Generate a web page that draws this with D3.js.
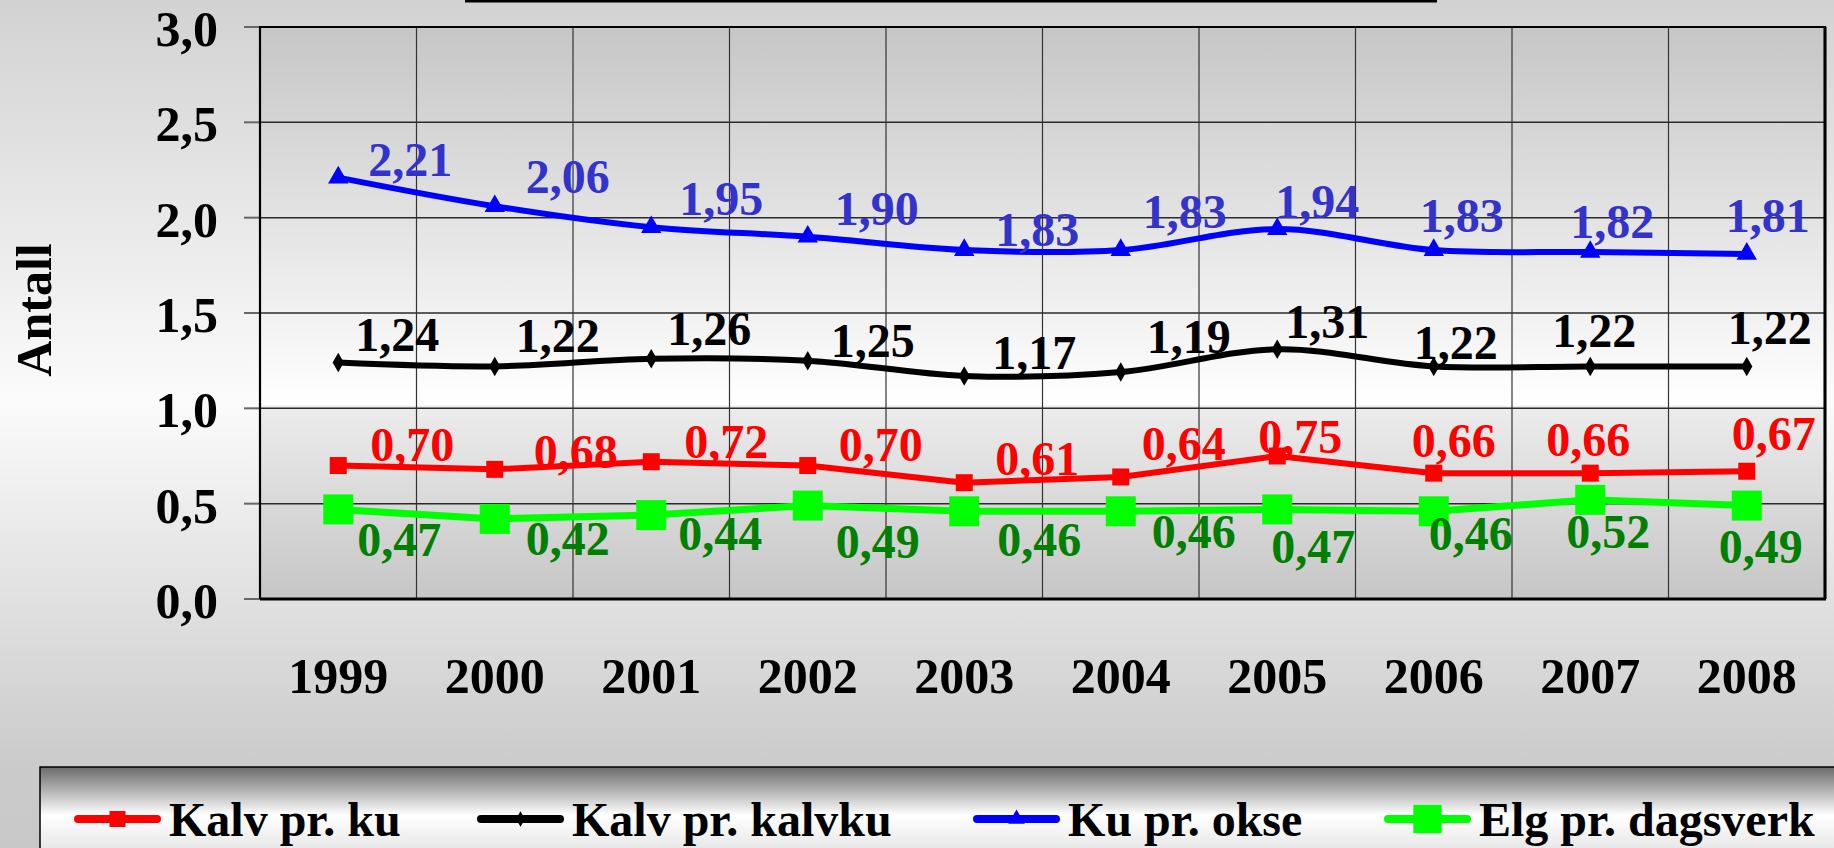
<html>
<head>
  <script src="https://d3js.org/d3.v7.min.js"></script>
  <style type="text/css">
    body { margin: 0; overflow: hidden; background: #d0d0d0; }
    text { font-family: "Liberation Serif", "Times New Roman", serif; font-weight: bold; }
  </style>
</head>
<body>
<svg id="chart" width="1834" height="848"></svg>

<script>
var years = ["1999", "2000", "2001", "2002", "2003", "2004", "2005", "2006", "2007", "2008"];
var kalvPrKu      = [0.70, 0.68, 0.72, 0.70, 0.61, 0.64, 0.75, 0.66, 0.66, 0.67];
var kalvPrKalvku  = [1.24, 1.22, 1.26, 1.25, 1.17, 1.19, 1.31, 1.22, 1.22, 1.22];
var kuPrOkse      = [2.21, 2.06, 1.95, 1.90, 1.83, 1.83, 1.94, 1.83, 1.82, 1.81];
var elgPrDagsverk = [0.47, 0.42, 0.44, 0.49, 0.46, 0.46, 0.47, 0.46, 0.52, 0.49];
var seriesNames = ["Kalv pr. ku", "Kalv pr. kalvku", "Ku pr. okse", "Elg pr. dagsverk"];
var yTicks = [0, 0.5, 1.0, 1.5, 2.0, 2.5, 3.0];
var yTitle = "Antall";

// hand placed data labels in the original, nudges in px from the point
var redDx   = [32, 39, 33, 31, 31, 21, -19, -22, -44, -15];
var redDy   = [-5, -1, -4, -5, -8, -17, -3, -16, -17, -21];
var blackDx = [17, 21, 16, 23, 28, 26, 8, -20, -38, -19];
var blackDy = [-12, -14, -14, -4, -7, -19, -11, -7, -19, -22];
var blueDx  = [30, 31, 28, 27, 31, 22, -2, -14, -20, -21];
var blueDy  = [-2, -13, -12, -12, -4, -22, -11, -18, -14, -22];
var greenDx = [19, 31, 27, 28, 33, 31, -6, -5, -24, -28];
var greenDy = [47, 36, 35, 52, 45, 37, 54, 39, 48, 57];

var series = [
  {name: seriesNames[1], values: kalvPrKalvku, line: "#000000", label: "#000000", curve: d3.curveCatmullRom.alpha(0), width: 6,
   symbol: d3.symbolDiamond, size: 110, legSize: 70, dx: blackDx, dy: blackDy},
  {name: seriesNames[2], values: kuPrOkse, line: "#0000ff", label: "#3333cc", curve: d3.curveCatmullRom.alpha(0), width: 6,
   symbol: d3.symbolTriangle, size: 180, legSize: 120, dx: blueDx, dy: blueDy},
  {name: seriesNames[3], values: elgPrDagsverk, line: "#00ff00", label: "#008000", curve: d3.curveLinear, width: 7,
   symbol: d3.symbolSquare, size: 900, legSize: 800, dx: greenDx, dy: greenDy},
  {name: seriesNames[0], values: kalvPrKu, line: "#ff0000", label: "#ff0000", curve: d3.curveLinear, width: 6,
   symbol: d3.symbolSquare, size: 289, legSize: 256, dx: redDx, dy: redDy}
];

var comma = function(f) { return function(v) { return d3.format(f)(v).replace(".", ","); }; };

var svg = d3.select("#chart");
var defs = svg.append("defs");

function vGradient(id, stops) {
  var g = defs.append("linearGradient").attr("id", id)
    .attr("x1", 0).attr("y1", 0).attr("x2", 0).attr("y2", 1);
  stops.forEach(function(s) {
    g.append("stop").attr("offset", s[0]).attr("stop-color", s[1]);
  });
}
vGradient("pageBg", [[0, "#d2d2d2"], [0.47, "#fbfbfb"], [0.9, "#cbcbcb"], [1, "#c8c8c8"]]);
vGradient("plotBg", [[0, "#c6c6c6"], [0.66, "#ffffff"], [0.664, "#ececec"], [1, "#c6c6c6"]]);
vGradient("legBg", [[0, "#6a6a6a"], [0.4, "#ffffff"], [0.7, "#e6e6e6"], [1, "#c0c0c0"]]);

svg.append("rect").attr("width", 1834).attr("height", 848).attr("fill", "url(#pageBg)");

// bottom edge of the title box, cut off by the frame
svg.append("line")
  .attr("x1", 465).attr("x2", 1437).attr("y1", 1).attr("y2", 1)
  .style("stroke", "#000").style("stroke-width", 3);

var plotL = 260, plotR = 1825, plotT = 27, plotB = 599;

var x = d3.scaleBand().domain(years).range([plotL, plotR]);
var y = d3.scaleLinear().domain([0, 3]).range([plotB, plotT]);
var cx = function(i) { return x(years[i]) + x.bandwidth() / 2; };

svg.append("rect")
  .attr("x", plotL).attr("y", plotT)
  .attr("width", plotR - plotL).attr("height", plotB - plotT)
  .attr("fill", "url(#plotBg)");

// gridlines
svg.selectAll("hgrid")
  .data(yTicks.slice(1, -1))
  .enter()
  .append("line")
    .attr("x1", plotL).attr("x2", plotR)
    .attr("y1", function(d) { return y(d); })
    .attr("y2", function(d) { return y(d); })
    .style("stroke", "#2a2a2a").style("stroke-width", 1.5);

svg.selectAll("vgrid")
  .data(years.slice(1))
  .enter()
  .append("line")
    .attr("x1", function(d) { return x(d); })
    .attr("x2", function(d) { return x(d); })
    .attr("y1", plotT).attr("y2", plotB)
    .style("stroke", "#333").style("stroke-width", 1.2);

// y axis ticks and labels
svg.selectAll("ytick")
  .data(yTicks)
  .enter()
  .append("line")
    .attr("x1", plotL - 16).attr("x2", plotL)
    .attr("y1", function(d) { return y(d); })
    .attr("y2", function(d) { return y(d); })
    .style("stroke", "#666").style("stroke-width", 2);

svg.selectAll("ylabel")
  .data(yTicks)
  .enter()
  .append("text")
    .attr("x", 218)
    .attr("y", function(d) { return y(d) + 19; })
    .attr("text-anchor", "end")
    .style("font-size", "50px")
    .text(comma(".1f"));

svg.append("text")
  .attr("transform", "translate(51,310) rotate(-90)")
  .attr("text-anchor", "middle")
  .style("font-size", "50px")
  .text(yTitle);

svg.selectAll("xlabel")
  .data(years)
  .enter()
  .append("text")
    .attr("x", function(d, i) { return cx(i); })
    .attr("y", 693)
    .attr("text-anchor", "middle")
    .style("font-size", "50px")
    .text(function(d) { return d; });

// plot frame
svg.append("path")
  .attr("d", "M" + plotL + "," + plotB + "V" + plotT + "H" + plotR + "V" + plotB)
  .attr("fill", "none")
  .style("stroke", "#000").style("stroke-width", 2.2);
svg.append("line")
  .attr("x1", plotL).attr("x2", plotR + 1).attr("y1", plotB).attr("y2", plotB)
  .style("stroke", "#000").style("stroke-width", 3);
svg.append("line")
  .attr("x1", plotR).attr("x2", plotR).attr("y1", plotT).attr("y2", plotB)
  .style("stroke", "#000").style("stroke-width", 3);

// series
series.forEach(function(s) {
  var g = svg.append("g");
  var line = d3.line()
    .x(function(d, i) { return cx(i); })
    .y(function(d) { return y(d); })
    .curve(s.curve);

  g.append("path")
    .datum(s.values)
    .attr("d", line)
    .attr("fill", "none")
    .style("stroke", s.line)
    .style("stroke-width", s.width)
    .style("stroke-linejoin", "round");

  g.selectAll("marker")
    .data(s.values)
    .enter()
    .append("path")
      .attr("d", d3.symbol().type(s.symbol).size(s.size))
      .attr("transform", function(d, i) { return "translate(" + cx(i) + "," + y(d) + ")"; })
      .attr("fill", s.line);
});

series.forEach(function(s) {
  svg.selectAll("lbl")
    .data(s.values)
    .enter()
    .append("text")
      .attr("x", function(d, i) { return cx(i) + s.dx[i]; })
      .attr("y", function(d, i) { return y(d) + s.dy[i]; })
      .style("font-size", "48px")
      .style("fill", s.label)
      .text(comma(".2f"));
});

// legend
svg.append("rect")
  .attr("x", 40).attr("y", 767)
  .attr("width", 1900).attr("height", 120)
  .attr("fill", "url(#legBg)")
  .style("stroke", "#000").style("stroke-width", 1.5);

var legX = [78, 481, 977, 1388];
var legOrder = [3, 0, 1, 2];
legOrder.forEach(function(k, j) {
  var s = series[k];
  var x0 = legX[j], ly = 819;
  svg.append("line")
    .attr("x1", x0).attr("x2", x0 + 79).attr("y1", ly).attr("y2", ly)
    .style("stroke", s.line).style("stroke-width", 8).style("stroke-linecap", "round");
  svg.append("path")
    .attr("d", d3.symbol().type(s.symbol).size(s.legSize))
    .attr("transform", "translate(" + (x0 + 39.5) + "," + ly + ")")
    .attr("fill", s.line);
  svg.append("text")
    .attr("x", x0 + 91).attr("y", 836)
    .style("font-size", "48px")
    .text(s.name);
});
</script>
</body>
</html>
